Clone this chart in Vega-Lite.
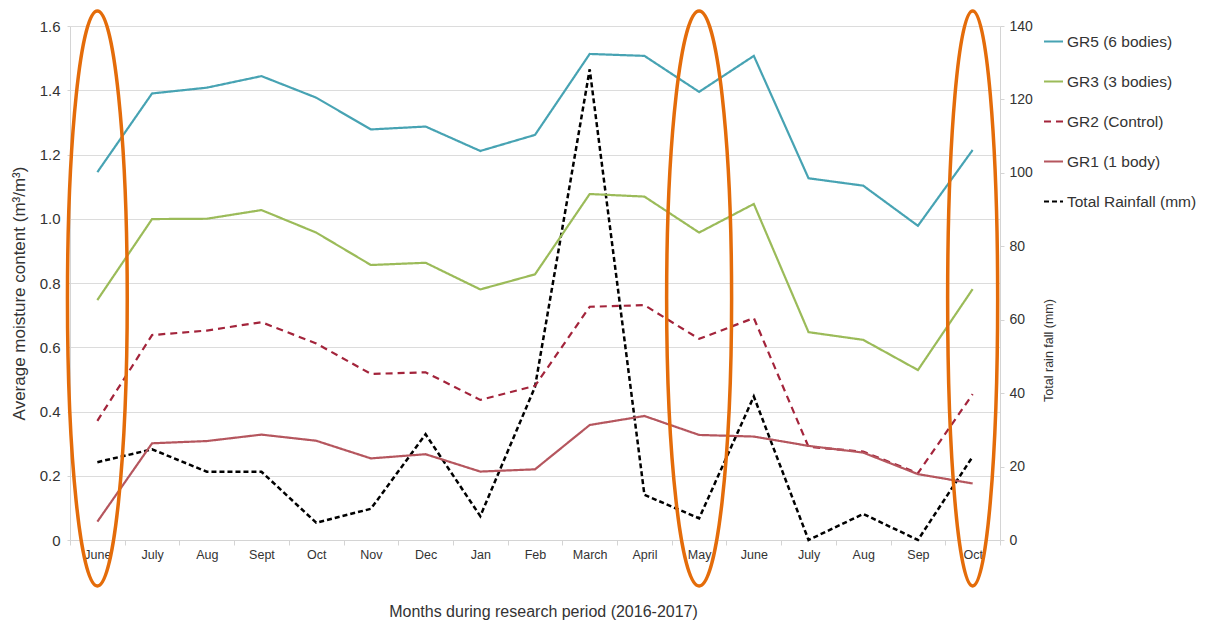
{
  "$schema": "https://vega.github.io/schema/vega-lite/v6.json",
  "width": 930,
  "height": 514,
  "autosize": "none",
  "padding": {"left": 70, "top": 26, "right": 210, "bottom": 81},
  "background": "white",
  "config": {
    "font": "Liberation Sans",
    "view": {"stroke": null},
    "axis": {
      "labelColor": "#333333",
      "titleColor": "#333333",
      "domainColor": "#d4d4d4",
      "tickColor": "#d4d4d4",
      "gridColor": "#dcdcdc",
      "titleFontWeight": "normal",
      "labelFont": "Liberation Sans",
      "titleFont": "Liberation Sans"
    },
    "legend": {
      "orient": "none",
      "legendX": 973,
      "legendY": 5,
      "title": null,
      "symbolType": "stroke",
      "symbolSize": 361,
      "symbolStrokeWidth": 2,
      "labelFontSize": 15.5,
      "labelColor": "#333333",
      "labelFont": "Liberation Sans",
      "rowPadding": 21,
      "labelOffset": 3,
      "padding": 0
    }
  },
  "data": {
    "values": [
      {"m": "01 June", "GR5 (6 bodies)": 1.145, "GR3 (3 bodies)": 0.747, "GR2 (Control)": 0.371, "GR1 (1 body)": 0.057, "Total Rainfall (mm)": 21.2},
      {"m": "02 July", "GR5 (6 bodies)": 1.39, "GR3 (3 bodies)": 0.999, "GR2 (Control)": 0.638, "GR1 (1 body)": 0.301, "Total Rainfall (mm)": 24.7},
      {"m": "03 Aug", "GR5 (6 bodies)": 1.408, "GR3 (3 bodies)": 1.0, "GR2 (Control)": 0.652, "GR1 (1 body)": 0.308, "Total Rainfall (mm)": 18.6},
      {"m": "04 Sept", "GR5 (6 bodies)": 1.444, "GR3 (3 bodies)": 1.027, "GR2 (Control)": 0.678, "GR1 (1 body)": 0.328, "Total Rainfall (mm)": 18.6},
      {"m": "05 Oct", "GR5 (6 bodies)": 1.377, "GR3 (3 bodies)": 0.957, "GR2 (Control)": 0.612, "GR1 (1 body)": 0.309, "Total Rainfall (mm)": 4.7},
      {"m": "06 Nov", "GR5 (6 bodies)": 1.278, "GR3 (3 bodies)": 0.856, "GR2 (Control)": 0.517, "GR1 (1 body)": 0.254, "Total Rainfall (mm)": 8.5},
      {"m": "07 Dec", "GR5 (6 bodies)": 1.287, "GR3 (3 bodies)": 0.863, "GR2 (Control)": 0.522, "GR1 (1 body)": 0.267, "Total Rainfall (mm)": 28.8},
      {"m": "08 Jan", "GR5 (6 bodies)": 1.211, "GR3 (3 bodies)": 0.78, "GR2 (Control)": 0.436, "GR1 (1 body)": 0.213, "Total Rainfall (mm)": 6.5},
      {"m": "09 Feb", "GR5 (6 bodies)": 1.261, "GR3 (3 bodies)": 0.827, "GR2 (Control)": 0.48, "GR1 (1 body)": 0.22, "Total Rainfall (mm)": 41.7},
      {"m": "10 March", "GR5 (6 bodies)": 1.513, "GR3 (3 bodies)": 1.077, "GR2 (Control)": 0.726, "GR1 (1 body)": 0.358, "Total Rainfall (mm)": 128.2},
      {"m": "11 April", "GR5 (6 bodies)": 1.507, "GR3 (3 bodies)": 1.069, "GR2 (Control)": 0.731, "GR1 (1 body)": 0.386, "Total Rainfall (mm)": 12.3},
      {"m": "12 May", "GR5 (6 bodies)": 1.395, "GR3 (3 bodies)": 0.957, "GR2 (Control)": 0.626, "GR1 (1 body)": 0.327, "Total Rainfall (mm)": 5.9},
      {"m": "13 June", "GR5 (6 bodies)": 1.507, "GR3 (3 bodies)": 1.046, "GR2 (Control)": 0.691, "GR1 (1 body)": 0.322, "Total Rainfall (mm)": 39.1},
      {"m": "14 July", "GR5 (6 bodies)": 1.126, "GR3 (3 bodies)": 0.647, "GR2 (Control)": 0.29, "GR1 (1 body)": 0.293, "Total Rainfall (mm)": 0},
      {"m": "15 Aug", "GR5 (6 bodies)": 1.103, "GR3 (3 bodies)": 0.623, "GR2 (Control)": 0.275, "GR1 (1 body)": 0.272, "Total Rainfall (mm)": 7.1},
      {"m": "16 Sep", "GR5 (6 bodies)": 0.978, "GR3 (3 bodies)": 0.529, "GR2 (Control)": 0.208, "GR1 (1 body)": 0.205, "Total Rainfall (mm)": 0},
      {"m": "17 Oct", "GR5 (6 bodies)": 1.214, "GR3 (3 bodies)": 0.781, "GR2 (Control)": 0.454, "GR1 (1 body)": 0.176, "Total Rainfall (mm)": 22.7}
    ]
  },
  "encoding": {
    "x": {
      "field": "m",
      "type": "ordinal",
      "scale": {
        "type": "band",
        "paddingInner": 0,
        "paddingOuter": 0,
        "domain": ["01 June", "02 July", "03 Aug", "04 Sept", "05 Oct", "06 Nov", "07 Dec", "08 Jan", "09 Feb", "10 March", "11 April", "12 May", "13 June", "14 July", "15 Aug", "16 Sep", "17 Oct"]
      },
      "axis": {
        "title": "Months during research period (2016-2017)",
        "labelExpr": "isString(datum.value) ? substring(datum.value, 3) : ''",
        "labelAngle": 0,
        "labelFontSize": 12.5,
        "labelPadding": 3,
        "tickBand": "extent",
        "tickSize": 5,
        "grid": false,
        "titleFontSize": 16,
        "titleY": 71,
        "titleX": 473,
        "titleBaseline": "middle",
        "titleAlign": "center"
      }
    }
  },
  "layer": [
    {
      "transform": [{"fold": ["Total Rainfall (mm)"], "as": ["series", "v"]}],
      "mark": {"type": "line", "strokeWidth": 2.5},
      "encoding": {
        "y": {
          "field": "v",
          "type": "quantitative",
          "scale": {"domain": [0, 140], "nice": false},
          "axis": {
            "orient": "right",
            "title": "Total rain fall (mm)",
            "values": [0, 20, 40, 60, 80, 100, 120, 140],
            "grid": false,
            "labelFontSize": 14,
            "tickSize": 4,
            "labelPadding": 5,
            "titleFontSize": 12.5,
            "titleAngle": 270,
            "titleX": 48,
            "titleY": 324,
            "titleAlign": "center",
            "titleBaseline": "middle"
          }
        },
        "color": {
          "field": "series",
          "type": "nominal",
          "scale": {
            "domain": ["GR5 (6 bodies)", "GR3 (3 bodies)", "GR2 (Control)", "GR1 (1 body)", "Total Rainfall (mm)"],
            "range": ["#47a3b3", "#9bbb59", "#a3243b", "#b5565e", "#000000"]
          }
        },
        "strokeDash": {
          "field": "series",
          "type": "nominal",
          "scale": {
            "domain": ["GR5 (6 bodies)", "GR3 (3 bodies)", "GR2 (Control)", "GR1 (1 body)", "Total Rainfall (mm)"],
            "range": [[1, 0], [1, 0], [7, 5], [1, 0], [5, 3]]
          }
        }
      }
    },
    {
      "layer": [
        {
          "transform": [{"fold": ["GR5 (6 bodies)", "GR3 (3 bodies)", "GR2 (Control)", "GR1 (1 body)"], "as": ["series", "v"]}],
          "mark": {"type": "line", "strokeWidth": 2.2},
          "encoding": {
            "y": {
              "field": "v",
              "type": "quantitative",
              "scale": {"domain": [0, 1.6], "nice": false},
              "axis": {
                "orient": "left",
                "title": "Average moisture content (m³/m³)",
                "values": [0, 0.2, 0.4, 0.6, 0.8, 1.0, 1.2, 1.4, 1.6],
                "labelExpr": "datum.value == 0 ? '0' : format(datum.value, '.1f')",
                "grid": true,
                "labelFontSize": 15,
                "tickSize": 3,
                "labelPadding": 7,
                "titleFontSize": 17,
                "titleAngle": 270,
                "titleX": -51,
                "titleY": 267,
                "titleAlign": "center",
                "titleBaseline": "middle"
              }
            },
            "color": {"field": "series", "type": "nominal"},
            "strokeDash": {"field": "series", "type": "nominal"},
            "order": {"field": "m"}
          }
        },
        {
          "data": {
            "values": [
              {"m": "01 June", "kind": "a", "v": 0.752},
              {"m": "12 May", "kind": "b", "v": 0.752},
              {"m": "17 Oct", "kind": "c", "v": 0.752}
            ]
          },
          "mark": {"type": "point", "filled": false, "color": "#e46c0a", "strokeWidth": 3.5, "size": 330625, "opacity": 1},
          "encoding": {
            "y": {"field": "v", "type": "quantitative"},
            "shape": {
              "field": "kind",
              "type": "nominal",
              "legend": null,
              "scale": {
                "domain": ["a", "b", "c"],
                "range": [
                  "M0,-1C0.0574,-1 0.104,-0.5523 0.104,0C0.104,0.5523 0.0574,1 0,1C-0.0574,1 -0.104,0.5523 -0.104,0C-0.104,-0.5523 -0.0574,-1 0,-1Z",
                  "M0,-1C0.0624,-1 0.113,-0.5523 0.113,0C0.113,0.5523 0.0624,1 0,1C-0.0624,1 -0.113,0.5523 -0.113,0C-0.113,-0.5523 -0.0624,-1 0,-1Z",
                  "M0,-1C0.0481,-1 0.087,-0.5523 0.087,0C0.087,0.5523 0.0481,1 0,1C-0.0481,1 -0.087,0.5523 -0.087,0C-0.087,-0.5523 -0.0481,-1 0,-1Z"
                ]
              }
            }
          }
        }
      ]
    }
  ],
  "resolve": {"scale": {"y": "independent"}}
}
